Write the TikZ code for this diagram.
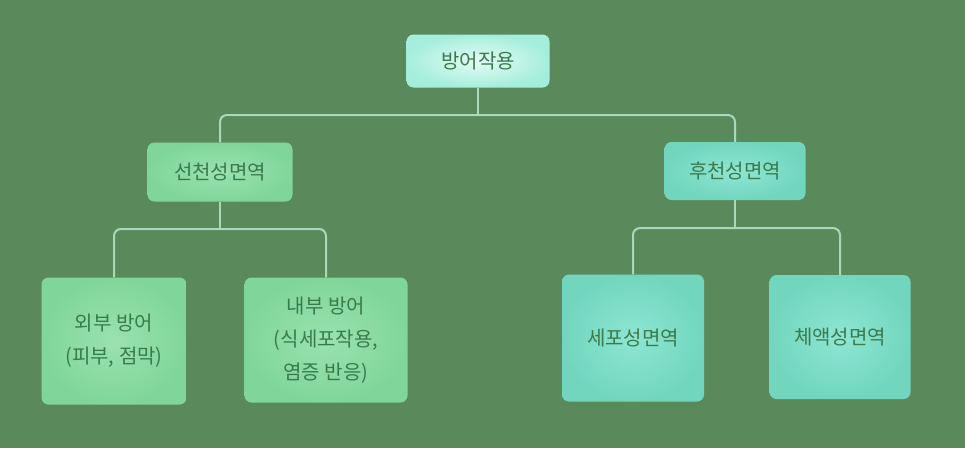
\documentclass[tikz,border=0pt]{standalone}
\usepackage{fontspec}
\setmainfont{Noto Sans CJK KR}
\definecolor{bg}{HTML}{5A8A5C}
\definecolor{linec}{HTML}{A6DABA}
\definecolor{txt}{HTML}{3A7A4C}
\definecolor{rootin}{HTML}{E4FBF4}
\definecolor{rootout}{HTML}{A6EEDC}
\definecolor{grin}{HTML}{9AE2AE}
\definecolor{grout}{HTML}{80D69A}
\definecolor{cyin}{HTML}{8EE6D2}
\definecolor{cyout}{HTML}{72D6BE}
\begin{document}
\begin{tikzpicture}[x=1pt,y=-1pt,
  box/.style={rounded corners=7pt, draw=none, text=txt, font=\fontsize{20}{33}\selectfont, align=center, inner sep=0pt},
  rootbox/.style={box, inner color=rootin, outer color=rootout},
  greenbox/.style={box, inner color=grin, outer color=grout},
  cyanbox/.style={box, inner color=cyin, outer color=cyout},
  conn/.style={draw=linec, line width=2pt},
  bar/.style={conn, rounded corners=7pt}]
\fill[bg] (0,0) rectangle (965,448);
\useasboundingbox (0,0) rectangle (965,448);

\node[rootbox, minimum width=143pt, minimum height=53pt] (root) at (478,61) {방어작용};
\node[greenbox, minimum width=145pt, minimum height=59pt] (inn) at (220,172) {선천성면역};
\node[cyanbox, minimum width=141pt, minimum height=58pt] (acq) at (735,171) {후천성면역};

\node[greenbox, minimum width=145pt, minimum height=127pt] (ext) at (114,341) {외부 방어\\(피부, 점막)};
\node[greenbox, minimum width=163pt, minimum height=125pt] (int) at (326,340) {내부 방어\\(식세포작용,\\염증 반응)};
\node[cyanbox, minimum width=142pt, minimum height=127pt] (cell) at (633,338) {세포성면역};
\node[cyanbox, minimum width=141pt, minimum height=124pt] (hum) at (840,337) {체액성면역};

\coordinate (topbar) at (478,115);
\draw[bar] (inn.north) |- (topbar) -| (acq.north);
\draw[conn] (root.south) -- (topbar);

\coordinate (lbar) at (220,229);
\draw[bar] (ext.north) |- (lbar) -| (int.north);
\draw[conn] (inn.south) -- (lbar);

\coordinate (rbar) at (735,228);
\draw[bar] (cell.north) |- (rbar) -| (hum.north);
\draw[conn] (acq.south) -- (rbar);
\end{tikzpicture}
\end{document}
